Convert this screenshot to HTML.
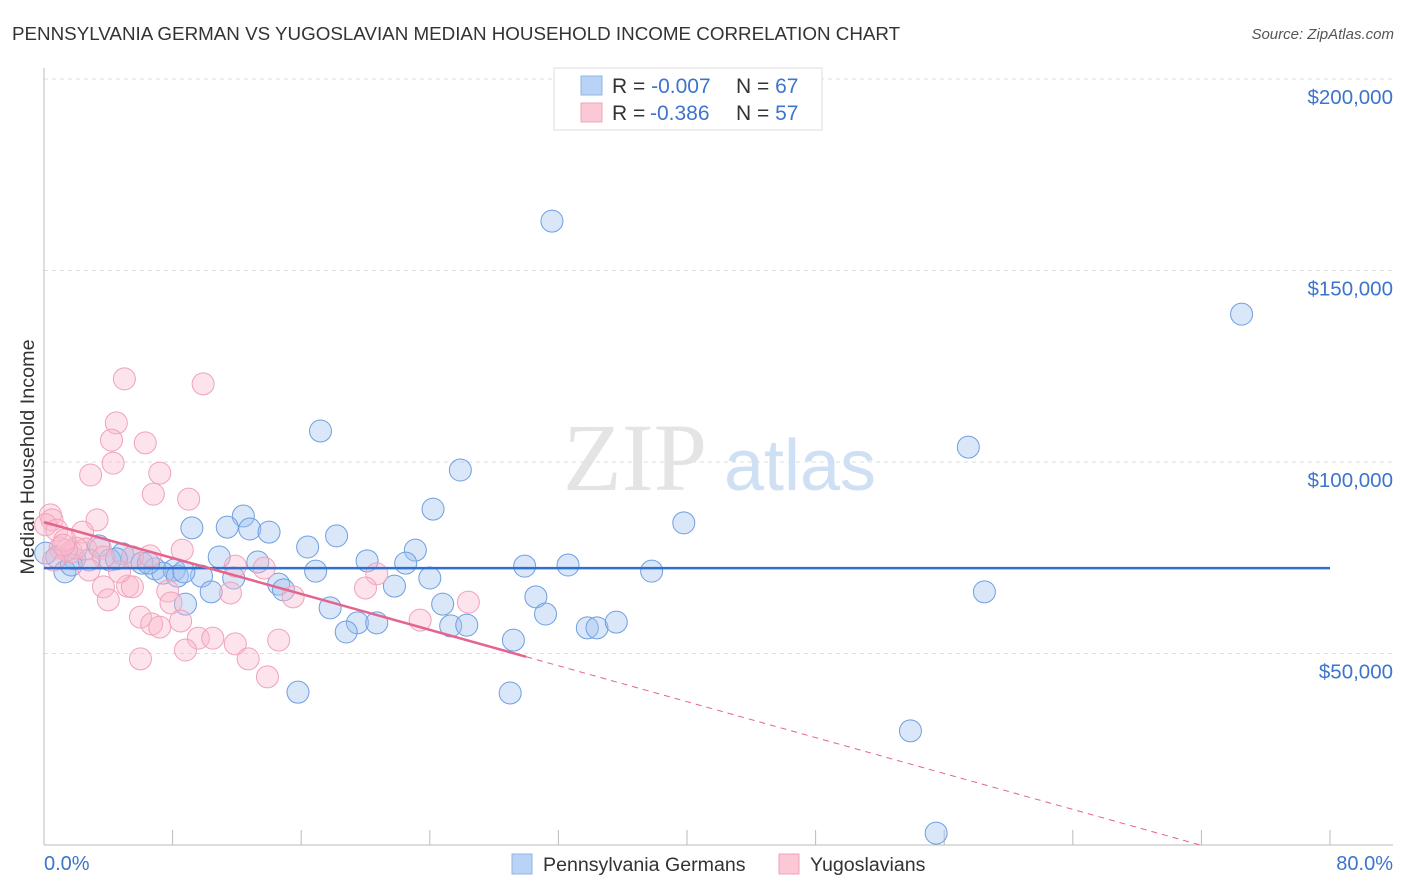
<!DOCTYPE html>
<html><head><meta charset="utf-8"><style>
body{margin:0;background:#fff;font-family:"Liberation Sans",sans-serif;}
svg{display:block}
</style></head><body>
<svg id="chart" width="1406" height="892" viewBox="0 0 1406 892" xmlns="http://www.w3.org/2000/svg">
<text x="12" y="40" font-size="18.8" fill="#333">PENNSYLVANIA GERMAN VS YUGOSLAVIAN MEDIAN HOUSEHOLD INCOME CORRELATION CHART</text>
<text x="1394" y="39" font-size="15" fill="#555" font-style="italic" text-anchor="end">Source: ZipAtlas.com</text>
<g id="grid"></g>
<g>
<text x="635" y="490" font-size="96" font-family="Liberation Serif,serif" fill="#e4e4e4" text-anchor="middle">ZIP</text>
<text x="800" y="490" font-size="72" fill="#cfe0f4" text-anchor="middle">atlas</text>
</g>
<g id="axes"></g>
<g id="pts"></g>
<g id="trends"></g>
<text transform="translate(34,457) rotate(-90)" font-size="19.8" fill="#333" text-anchor="middle">Median Household Income</text>
<g>
<rect x="554" y="68" width="268" height="62" fill="#fff" stroke="#ddd"/>
<rect x="581" y="76" width="21" height="19" fill="#b9d3f5" stroke="#8fb5e8"/>
<rect x="581" y="103" width="21" height="19" fill="#fbc8d6" stroke="#f0a3ba"/>
<text x="612" y="93" font-size="21" fill="#333">R = <tspan fill="#3d74cc">-0.007</tspan><tspan x="736">N = </tspan><tspan fill="#3d74cc">67</tspan></text>
<text x="612" y="120" font-size="21" fill="#333">R = <tspan fill="#3d74cc" x="650">-0.386</tspan><tspan x="736">N = </tspan><tspan fill="#3d74cc">57</tspan></text>
</g>
<g>
<rect x="512" y="854" width="20" height="20" fill="#b9d3f5" stroke="#8fb5e8"/>
<text x="543" y="871" font-size="19.6" fill="#333">Pennsylvania Germans</text>
<rect x="779" y="854" width="20" height="20" fill="#fbc8d6" stroke="#f0a3ba"/>
<text x="810" y="871" font-size="19.6" fill="#333">Yugoslavians</text>
</g>
</svg>
<script>
const yTicks=[50000,100000,150000,200000];
const yTickLabels=["$50,000","$100,000","$150,000","$200,000"];
const xTickVals=[0,8,16,24,32,40,48,56,64,72,80];
const xEndLabels=["0.0%","80.0%"];
const paX=[31.6,74.5,17.2,57.5,25.9,39.8,24.2,12.4,9.2,11.4,12.8,14.0,18.2,16.4,23.1,10.9,13.3,20.1,3.4,4.9,5.5,1.9,0.8,4.1,1.3,1.7,6.9,8.1,7.4,8.3,9.8,11.8,16.9,22.5,29.9,32.6,37.8,24.0,14.6,14.9,10.4,21.8,8.8,17.8,24.8,30.6,58.5,31.2,19.5,20.7,18.8,25.3,26.3,33.8,34.4,35.6,29.2,15.8,29.0,53.9,55.5,6.1,0.1,2.8,4.5,6.5,8.7];
const paY=[162.9,138.6,108.1,103.9,97.9,84.1,87.7,85.9,82.8,83.0,82.5,81.7,80.7,77.8,77.0,75.2,73.9,74.2,78.1,76.0,75.2,74.7,75.2,74.4,71.3,73.1,72.1,71.8,71.0,70.2,70.2,69.7,71.5,73.6,72.8,73.1,71.5,69.7,68.1,66.6,66.1,67.6,62.9,61.9,62.9,64.8,66.1,60.3,58.0,58.0,55.6,57.2,57.4,56.7,56.7,58.2,53.5,39.9,39.7,29.8,3.1,73.6,76.2,74.4,74.7,73.6,71.3];
const yuX=[5.0,9.9,4.5,4.2,6.3,4.3,2.9,7.2,6.8,9.0,3.3,2.4,0.4,0.5,0.1,0.8,1.0,1.7,2.6,3.5,5.5,6.6,8.6,2.0,1.4,3.7,1.3,11.9,13.7,20.7,2.8,3.7,5.2,5.5,7.7,15.5,11.6,20.0,4.0,7.9,26.4,23.4,6.0,6.7,7.2,8.5,9.6,10.5,14.6,11.9,8.8,6.0,12.7,13.9,0.6,4.7,1.2];
const yuY=[121.7,120.4,110.2,105.7,105.0,99.7,96.6,97.1,91.6,90.3,84.9,81.7,86.2,84.9,83.6,82.2,77.5,76.5,77.3,77.5,75.2,75.5,77.0,77.5,77.0,75.2,79.6,72.8,72.3,70.8,71.8,67.4,67.6,67.4,66.3,64.8,65.8,67.1,64.0,63.2,63.4,58.7,59.5,57.7,56.9,58.5,54.0,54.0,53.5,52.5,50.9,48.6,48.6,43.9,74.4,71.3,78.3];
const paTrend=[72300,0];
const yuTrend=[84300,-1172];
const yuSolidEnd=30;
const X=v=>44+v/80*1286;
const Y=v=>845-v/50000*191.5;
const NS="http://www.w3.org/2000/svg";
function mk(p,t,a){const e=document.createElementNS(NS,t);for(const k in a)e.setAttribute(k,a[k]);p.appendChild(e);return e;}
const gridG=document.getElementById('grid'),axesG=document.getElementById('axes'),ptsG=document.getElementById('pts'),trG=document.getElementById('trends');
yTicks.forEach((v,i)=>{
 const l=mk(gridG,'line',{x1:44,x2:1393,y1:Y(v),y2:Y(v),stroke:'#ddd','stroke-dasharray':'4,4'});
 
 
 const t=mk(axesG,'text',{x:1393,y:Y(v)+25,'font-size':20.5,fill:'#3d74cc','text-anchor':'end'});
 t.textContent=yTickLabels[i];
 
 
});
const topLine=mk(gridG,'line',{x1:44,x2:1393,y1:79,y2:79,stroke:'#ddd','stroke-dasharray':'4,4'});


const ya=mk(axesG,'line',{x1:44,x2:44,y1:68,y2:845,stroke:'#bbb'});


const xa=mk(axesG,'line',{x1:44,x2:1393,y1:845,y2:845,stroke:'#bbb'});


xTickVals.forEach(v=>{
 const t=mk(axesG,'line',{x1:X(v),x2:X(v),y1:830,y2:845,stroke:'#bbb'});
 
 
});
const xl0=mk(axesG,'text',{x:44,y:870,'font-size':20,fill:'#3d74cc'});xl0.textContent=xEndLabels[0];


const xl1=mk(axesG,'text',{x:1393,y:870,'font-size':20,fill:'#3d74cc','text-anchor':'end'});xl1.textContent=xEndLabels[1];


paX.forEach((x,i)=>{
 const c=mk(ptsG,'circle',{cx:X(x),cy:Y(paY[i]*1000),r:11,fill:'rgba(160,196,240,0.4)',stroke:'#6f9fe0','stroke-width':1});
 
 
});
yuX.forEach((x,i)=>{
 const c=mk(ptsG,'circle',{cx:X(x),cy:Y(yuY[i]*1000),r:11,fill:'rgba(250,185,205,0.4)',stroke:'#f0a3ba','stroke-width':1});
 
 
});
const f=(t,x)=>t[0]+t[1]*x;
const bl=mk(trG,'line',{x1:X(0),x2:X(80),y1:Y(f(paTrend,0)),y2:Y(f(paTrend,80)),stroke:'#2f6fd0','stroke-width':2.5});


const pl=mk(trG,'line',{x1:X(0),x2:X(yuSolidEnd),y1:Y(f(yuTrend,0)),y2:Y(f(yuTrend,yuSolidEnd)),stroke:'#e4648e','stroke-width':2.5});


const xz=-yuTrend[0]/yuTrend[1];
const pd=mk(trG,'line',{x1:X(yuSolidEnd),x2:X(xz),y1:Y(f(yuTrend,yuSolidEnd)),y2:Y(0),stroke:'#e4648e','stroke-width':1,'stroke-dasharray':'6,5'});


</script>
</body></html>
